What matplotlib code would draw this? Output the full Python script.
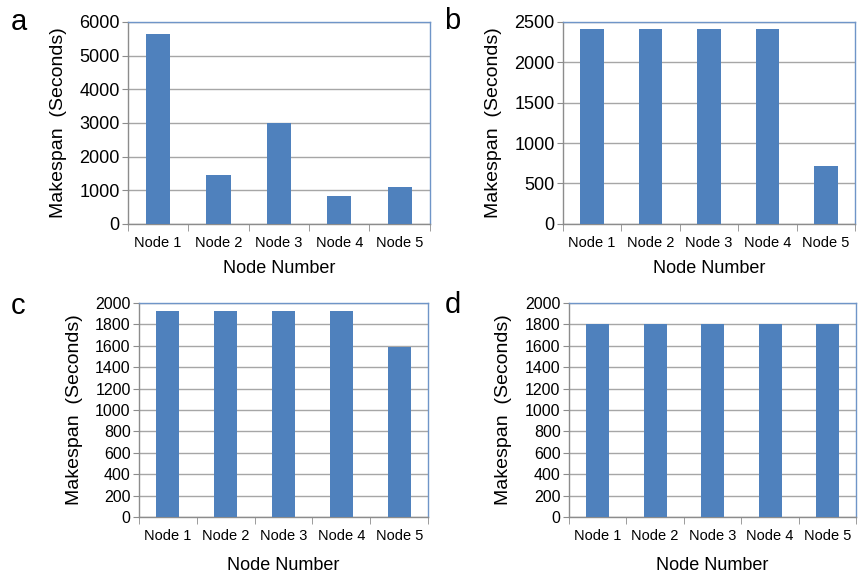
import matplotlib
matplotlib.use('Agg')
import matplotlib.pyplot as plt
import numpy as np

plt.rcParams['font.family'] = ['Liberation Sans', 'DejaVu Sans']

nodes = ['Node 1', 'Node 2', 'Node 3', 'Node 4', 'Node 5']
makespan_a = [5630, 1440, 3000, 840, 1100]
makespan_b = [2410, 2410, 2410, 2410, 720]
makespan_c = [1920, 1920, 1920, 1920, 1590]
makespan_d = [1800, 1800, 1800, 1800, 1800]

# letter, values, ymax, step, axes rect, letter position, ytick size, xlabel pad
panels = [
    ('a', makespan_a, 6000, 1000, [0.149, 0.612, 0.352, 0.350], (0.012, 0.962), 13, 7),
    ('b', makespan_b, 2500, 500, [0.656, 0.612, 0.341, 0.350], (0.518, 0.964), 13, 7),
    ('c', makespan_c, 2000, 200, [0.162, 0.104, 0.337, 0.371], (0.012, 0.470), 11.5, 10),
    ('d', makespan_d, 2000, 200, [0.663, 0.104, 0.335, 0.371], (0.518, 0.472), 11.5, 10),
]

bar_color = '#4f81bd'
frame_blue = '#6f95c8'
grey = '#8c8c8c'

fig = plt.figure(figsize=(8.58, 5.77), dpi=100)

for letter, vals, ymax, step, rect, lpos, ysize, xpad in panels:
    ax = fig.add_axes(rect)
    x = np.arange(len(nodes))
    ax.bar(x, vals, width=0.4, color=bar_color, zorder=3)
    ax.set_xlim(-0.5, len(nodes) - 0.5)
    ax.set_ylim(0, ymax)
    ax.set_yticks(np.arange(0, ymax + 1, step))
    ax.set_xticks(x)
    ax.set_xticklabels(nodes, fontsize=10.5)
    ax.set_xticks(np.arange(-0.5, len(nodes)), minor=True)
    ax.tick_params(axis='x', which='major', length=0, pad=9)
    ax.tick_params(axis='x', which='minor', length=5, color=grey, direction='out')
    ax.tick_params(axis='y', length=4, color=grey, labelsize=ysize, pad=2)
    ax.yaxis.grid(True, color='#a6a6a6', linewidth=1, zorder=0)
    ax.spines['left'].set_color(grey)
    ax.spines['bottom'].set_color(grey)
    ax.spines['top'].set_color(frame_blue)
    ax.spines['right'].set_color(frame_blue)
    for s in ax.spines.values():
        s.set_linewidth(1)
    ax.set_xlabel('Node Number', fontsize=13, labelpad=xpad)
    ax.set_ylabel('Makespan  (Seconds)', fontsize=14, labelpad=9)
    fig.text(lpos[0], lpos[1], letter, fontsize=21, va='center', ha='left')

fig.savefig('out.png', dpi=100)
